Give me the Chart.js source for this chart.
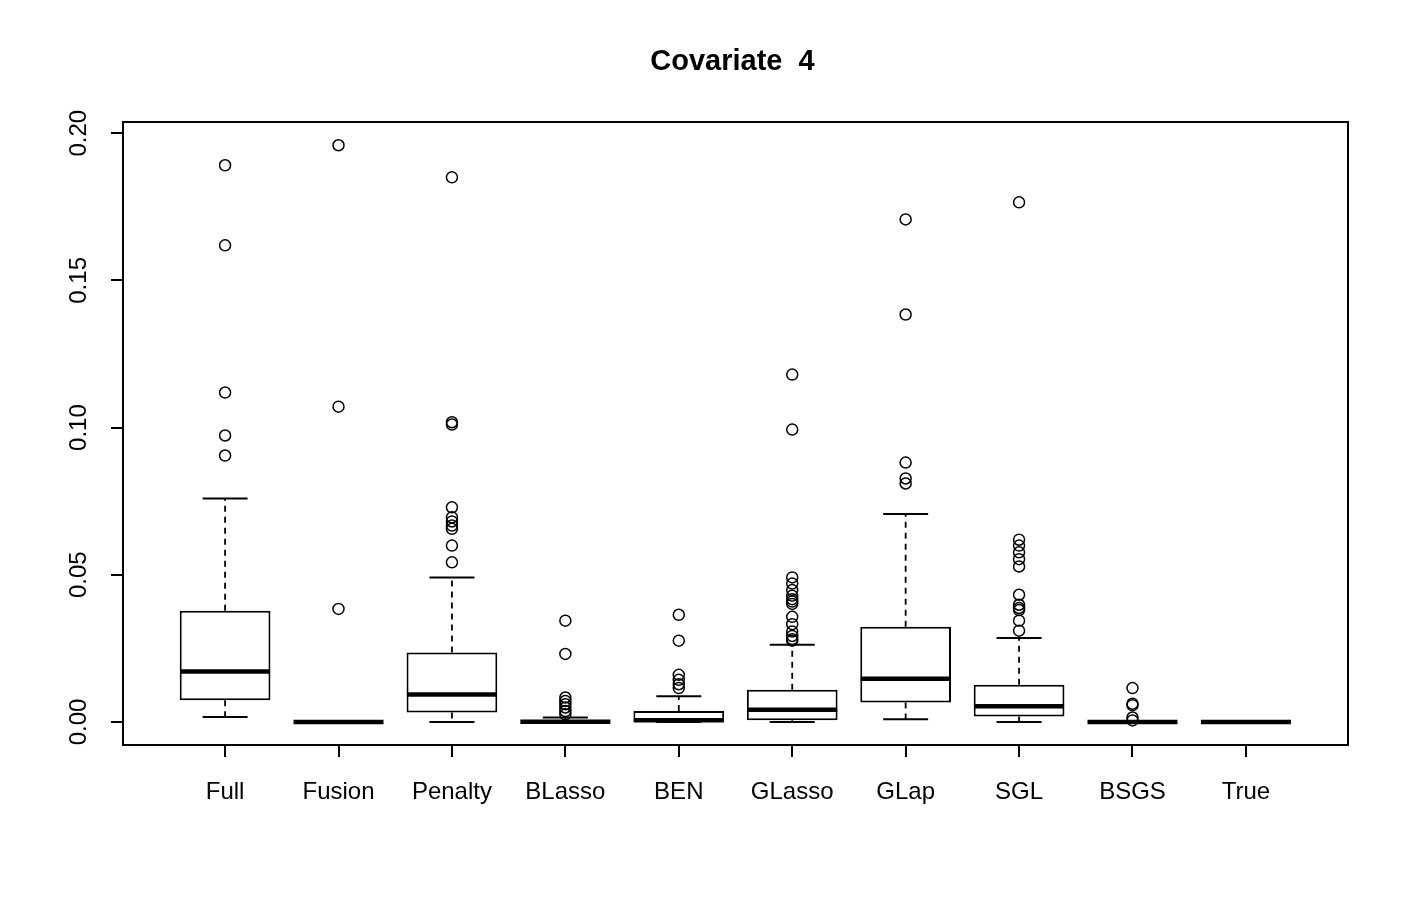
<!DOCTYPE html>
<html>
<head>
<meta charset="utf-8">
<script src="https://cdn.jsdelivr.net/npm/chart.js@4"></script>
<style>
  html, body { margin: 0; padding: 0; background: #fff; }
  #wrap { width: 1411px; height: 898px; }
</style>
</head>
<body>
<div id="wrap"><canvas id="c" width="1411" height="898"></canvas></div>
<script>
// ---- data ----
const chartTitle = 'Covariate  4';
const categories = ['Full', 'Fusion', 'Penalty', 'BLasso', 'BEN', 'GLasso', 'GLap', 'SGL', 'BSGS', 'True'];
const whiskerLow  = [0.0017, 0, 0.0000, 0, 0,      0,      0.0009, 0.0000, 0, 0];
const q1          = [0.0074, 0, 0.0032, 0, 0.0001, 0.0006, 0.0066, 0.0018, 0, 0];
const medians     = [0.0171, 0, 0.0093, 0.0001, 0.0006, 0.0041, 0.0147, 0.0053, 0, 0];
const q3          = [0.0378, 0, 0.0236, 0.0005, 0.0037, 0.0109, 0.0323, 0.0126, 0, 0];
const whiskerHigh = [0.0759, 0, 0.0491, 0.0015, 0.0087, 0.0262, 0.0706, 0.0285, 0, 0];
const outliers = [
  [0.1891, 0.1619, 0.1119, 0.0973, 0.0905],
  [0.1959, 0.1071, 0.0384],
  [0.1850, 0.1018, 0.1010, 0.0729, 0.0695, 0.0681, 0.0667, 0.0656, 0.0599, 0.0542],
  [0.0344, 0.0231, 0.0083, 0.0071, 0.0060, 0.0049, 0.0037, 0.0026],
  [0.0364, 0.0276, 0.0160, 0.0143, 0.0128, 0.0115],
  [0.1180, 0.0993, 0.0491, 0.0470, 0.0448, 0.0429, 0.0417, 0.0409, 0.0401, 0.0357, 0.0332, 0.0307, 0.0292, 0.0281, 0.0276],
  [0.1707, 0.1384, 0.0881, 0.0827, 0.0810],
  [0.1765, 0.0619, 0.0599, 0.0576, 0.0553, 0.0528, 0.0432, 0.0398, 0.0387, 0.0380, 0.0344, 0.0310],
  [0.0115, 0.0062, 0.0057, 0.0015, 0.0005],
  []
];
const yTicks = [0, 0.05, 0.10, 0.15, 0.20];
const yTickLabels = ['0.00', '0.05', '0.10', '0.15', '0.20'];
const xTickPositions = [1, 2, 3, 4, 5, 6, 7, 8, 9, 10];
const yRange = [-0.00784, 0.2038];
const xRange = [0.1, 10.9];

// ---- build datasets ----
const FONT = '"Liberation Sans", Arial, Helvetica, sans-serif';
const boxData = categories.map((c, i) => ({ x: i + 1, y: [q1[i], q3[i]] }));
const medianData = categories.map((c, i) => ({ x: i + 1, y: medians[i] }));
const capData = [];
const whiskerData = [];
categories.forEach((c, i) => {
  capData.push({ x: i + 1, y: whiskerLow[i] }, { x: i + 1, y: whiskerHigh[i] });
  whiskerData.push({ x: i + 1, y: q3[i] }, { x: i + 1, y: whiskerHigh[i] }, { x: i + 1, y: null });
  whiskerData.push({ x: i + 1, y: q1[i] }, { x: i + 1, y: whiskerLow[i] }, { x: i + 1, y: null });
});
const outlierData = [];
outliers.forEach((arr, i) => arr.forEach(v => outlierData.push({ x: i + 1, y: v })));

const framePlugin = {
  id: 'frameAndTitle',
  afterDraw(chart) {
    const { ctx, chartArea: a } = chart;
    ctx.save();
    ctx.strokeStyle = '#000';
    ctx.lineWidth = 2;
    ctx.strokeRect(a.left, a.top, a.right - a.left, a.bottom - a.top);
    ctx.fillStyle = '#000';
    ctx.font = 'bold 29px ' + FONT;
    ctx.textAlign = 'center';
    ctx.textBaseline = 'middle';
    ctx.fillText(chartTitle, (a.left + a.right) / 2 - 3, 62);
    ctx.restore();
  }
};

new Chart(document.getElementById('c'), {
  type: 'bar',
  data: {
    datasets: [
      {
        type: 'scatter', label: 'median', data: medianData, order: 0,
        pointStyle: 'line', pointRadius: 45, pointHoverRadius: 45,
        borderColor: '#000', pointBorderColor: '#000', borderWidth: 4.5, pointBorderWidth: 4.5
      },
      {
        type: 'scatter', label: 'outliers', data: outlierData, order: 1,
        pointStyle: 'circle', pointRadius: 5.5, pointHoverRadius: 5.5,
        backgroundColor: 'rgba(0,0,0,0)', pointBackgroundColor: 'rgba(0,0,0,0)',
        borderColor: '#000', pointBorderColor: '#000', borderWidth: 1.5, pointBorderWidth: 1.5
      },
      {
        type: 'scatter', label: 'caps', data: capData, order: 2,
        pointStyle: 'line', pointRadius: 22.5, pointHoverRadius: 22.5,
        borderColor: '#000', pointBorderColor: '#000', borderWidth: 2, pointBorderWidth: 2
      },
      {
        type: 'bar', label: 'boxes', data: boxData, order: 3,
        backgroundColor: '#fff', borderColor: '#000', borderWidth: 2, borderSkipped: false,
        barPercentage: 0.8, categoryPercentage: 1.0
      },
      {
        type: 'line', label: 'whiskers', data: whiskerData, order: 4,
        borderColor: '#000', borderWidth: 1.8, borderDash: [6, 5], pointRadius: 0,
        spanGaps: false, fill: false, tension: 0
      }
    ]
  },
  options: {
    responsive: false,
    animation: false,
    devicePixelRatio: 1,
    layout: { padding: { left: 0, right: 63, top: 122, bottom: 0 } },
    plugins: { legend: { display: false }, tooltip: { enabled: false }, title: { display: false } },
    events: [],
    scales: {
      x: {
        type: 'linear', position: 'bottom', min: xRange[0], max: xRange[1], offset: false,
        afterBuildTicks(scale) { scale.ticks = xTickPositions.map(v => ({ value: v })); },
        afterFit(scale) { scale.height = 153; },
        ticks: {
          autoSkip: false, maxRotation: 0, minRotation: 0, padding: 21,
          color: '#000', font: { family: FONT, size: 24 },
          callback: (v, idx) => categories[idx]
        },
        grid: { display: true, drawOnChartArea: false, drawTicks: true, tickLength: 12, color: '#000', lineWidth: 2, offset: false },
        border: { display: false }
      },
      y: {
        type: 'linear', position: 'left', min: yRange[0], max: yRange[1],
        afterBuildTicks(scale) { scale.ticks = yTicks.map(v => ({ value: v })); },
        afterFit(scale) { scale.width = 123; },
        ticks: {
          autoSkip: false, minRotation: 90, maxRotation: 90, crossAlign: 'center', padding: 8,
          color: '#000', font: { family: FONT, size: 24 },
          callback: (v, idx) => yTickLabels[idx]
        },
        grid: { display: true, drawOnChartArea: false, drawTicks: true, tickLength: 12, color: '#000', lineWidth: 2 },
        border: { display: false }
      }
    }
  },
  plugins: [framePlugin]
});
</script>
</body>
</html>
